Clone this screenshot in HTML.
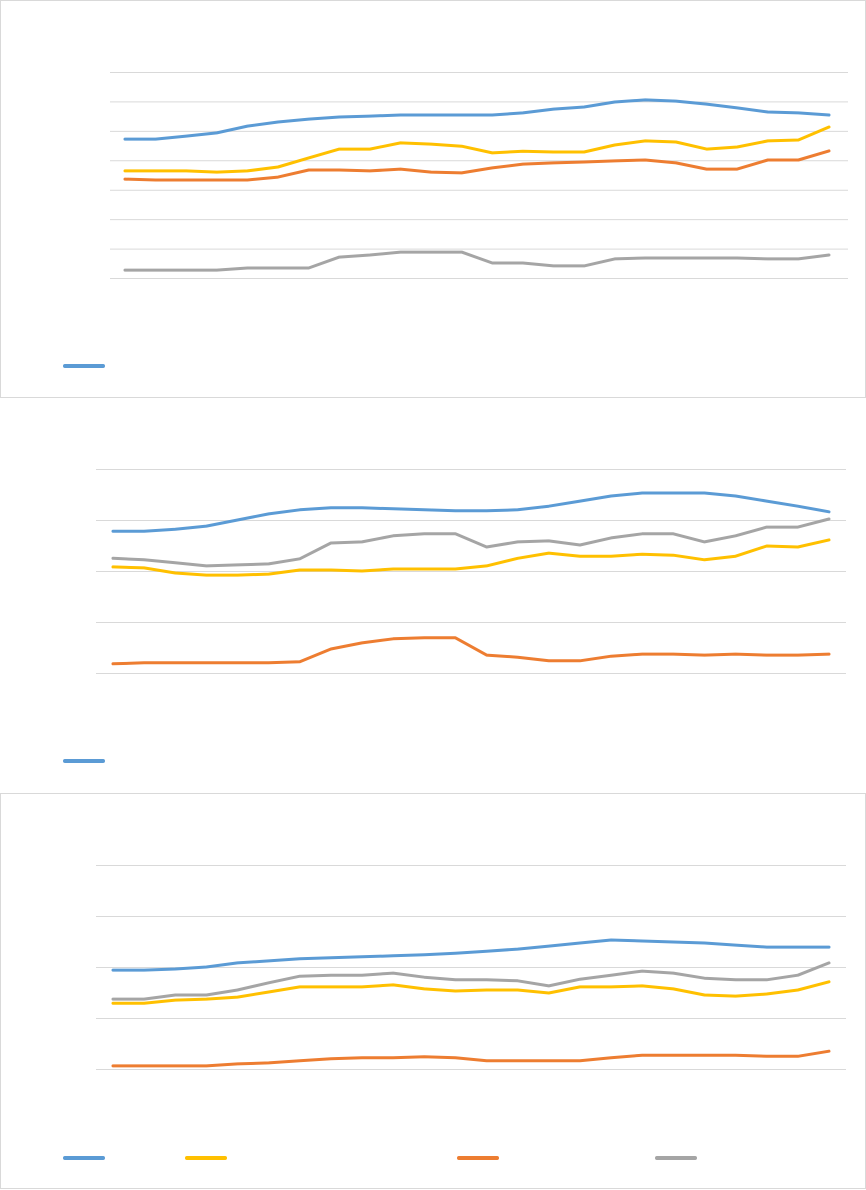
<!DOCTYPE html>
<html><head><meta charset="utf-8"><style>
html,body{margin:0;padding:0;background:#fff;font-family:"Liberation Sans",sans-serif}
svg{display:block}
</style></head><body>
<svg id="c" width="866" height="1190" viewBox="0 0 866 1190" xmlns="http://www.w3.org/2000/svg">
<rect x="0.5" y="0.5" width="865" height="397" fill="none" stroke="#d9d9d9"/>
<rect x="0.5" y="793.5" width="865" height="395" fill="none" stroke="#d9d9d9"/>
</svg>
<script>
const cats = Array.from({length:24},(_,i)=>'P'+(i+1));
const c1Blue=[4.72,4.72,4.82,4.93,5.16,5.30,5.40,5.47,5.50,5.54,5.54,5.54,5.54,5.61,5.74,5.81,5.98,6.05,6.01,5.91,5.78,5.64,5.61,5.54];
const c1Yellow=[3.64,3.64,3.64,3.60,3.64,3.77,4.08,4.38,4.38,4.59,4.55,4.48,4.25,4.31,4.28,4.28,4.52,4.66,4.62,4.38,4.45,4.66,4.69,5.13];
const c1Orange=[3.36,3.33,3.33,3.33,3.33,3.43,3.67,3.67,3.64,3.70,3.60,3.57,3.74,3.87,3.91,3.94,3.98,4.01,3.91,3.70,3.70,4.01,4.01,4.32];
const c1Gray=[0.27,0.27,0.27,0.27,0.34,0.34,0.34,0.71,0.78,0.88,0.88,0.88,0.51,0.51,0.41,0.41,0.65,0.68,0.68,0.68,0.68,0.65,0.65,0.78];
const c2Blue=[2.78,2.78,2.82,2.88,3.0,3.12,3.2,3.24,3.24,3.22,3.2,3.18,3.18,3.2,3.27,3.37,3.47,3.53,3.53,3.53,3.47,3.37,3.27,3.16];
const c2Gray=[2.25,2.22,2.16,2.1,2.12,2.14,2.24,2.55,2.57,2.69,2.73,2.73,2.47,2.57,2.59,2.51,2.65,2.73,2.73,2.57,2.69,2.86,2.86,3.02];
const c2Yellow=[2.08,2.06,1.96,1.92,1.92,1.94,2.02,2.02,2.0,2.04,2.04,2.04,2.1,2.25,2.35,2.29,2.29,2.33,2.31,2.22,2.29,2.49,2.47,2.61];
const c2Orange=[0.18,0.2,0.2,0.2,0.2,0.2,0.22,0.47,0.59,0.67,0.69,0.69,0.35,0.31,0.24,0.24,0.33,0.37,0.37,0.35,0.37,0.35,0.35,0.37];
const c3Blue=[1.94,1.94,1.96,2.0,2.08,2.12,2.16,2.18,2.2,2.22,2.24,2.27,2.31,2.35,2.41,2.47,2.53,2.51,2.49,2.47,2.43,2.39,2.39,2.39];
const c3Gray=[1.37,1.37,1.45,1.45,1.55,1.69,1.82,1.84,1.84,1.88,1.8,1.75,1.75,1.73,1.63,1.76,1.84,1.92,1.88,1.78,1.75,1.75,1.84,2.08];
const c3Yellow=[1.29,1.29,1.35,1.37,1.41,1.51,1.61,1.61,1.61,1.65,1.57,1.53,1.55,1.55,1.49,1.61,1.61,1.63,1.57,1.45,1.43,1.47,1.55,1.71];
const c3Orange=[0.06,0.06,0.06,0.06,0.1,0.12,0.16,0.2,0.22,0.22,0.24,0.22,0.16,0.16,0.16,0.16,0.22,0.27,0.27,0.27,0.27,0.25,0.25,0.35];
const c1Ticks=[0,1,2,3,4,5,6,7];
const c2Ticks=[0,1,2,3,4];
const c3Ticks=[0,1,2,3,4];

const NS='http://www.w3.org/2000/svg';
const svg=document.getElementById('c');
const COL={blue:'#5b9bd5',yellow:'#ffc000',orange:'#ed7d31',gray:'#a5a5a5'};
function chart(id,gx0,gx1,y0,step,px0,px1,ticks,series,legend){
  const x=i=>px0+(px1-px0)*i/(cats.length-1);
  const y=v=>y0-v*step;
  const g=document.createElementNS(NS,'g');
  
  
  svg.appendChild(g);
  ticks.forEach(t=>{
    const l=document.createElementNS(NS,'line');
    
    
    l.setAttribute('x1',gx0);l.setAttribute('x2',gx1);
    l.setAttribute('y1',y(t)+0.5);l.setAttribute('y2',y(t)+0.5);
    l.setAttribute('stroke','#d9d9d9');l.setAttribute('stroke-width','1');
    g.appendChild(l);
  });
  series.forEach(([name,vals,col])=>{
    const p=document.createElementNS(NS,'polyline');
    
    
    p.setAttribute('points',vals.map((v,i)=>x(i).toFixed(1)+','+y(v).toFixed(1)).join(' '));
    p.setAttribute('fill','none');p.setAttribute('stroke',col);
    p.setAttribute('stroke-width','3');p.setAttribute('stroke-linejoin','round');p.setAttribute('stroke-linecap','round');
    g.appendChild(p);
  });
  legend.forEach(([name,lx,ly,col])=>{
    const l=document.createElementNS(NS,'line');
    
    
    l.setAttribute('x1',lx);l.setAttribute('x2',lx+38);l.setAttribute('y1',ly);l.setAttribute('y2',ly);
    l.setAttribute('stroke',col);l.setAttribute('stroke-width','4');l.setAttribute('stroke-linecap','round');
    g.appendChild(l);
  });
}
chart('chart-1',110,848,278,29.43,125,829,c1Ticks,
  [['gray',c1Gray,COL.gray],['orange',c1Orange,COL.orange],['yellow',c1Yellow,COL.yellow],['blue',c1Blue,COL.blue]],
  [['blue',65,366,COL.blue]]);
chart('chart-2',96,846,673,51,113,829,c2Ticks,
  [['orange',c2Orange,COL.orange],['yellow',c2Yellow,COL.yellow],['gray',c2Gray,COL.gray],['blue',c2Blue,COL.blue]],
  [['blue',65,761,COL.blue]]);
chart('chart-3',96,846,1069,51,113,829,c3Ticks,
  [['orange',c3Orange,COL.orange],['yellow',c3Yellow,COL.yellow],['gray',c3Gray,COL.gray],['blue',c3Blue,COL.blue]],
  [['blue',65,1158,COL.blue],['yellow',187,1158,COL.yellow],['orange',459,1158,COL.orange],['gray',657,1158,COL.gray]]);
</script>
</body></html>
